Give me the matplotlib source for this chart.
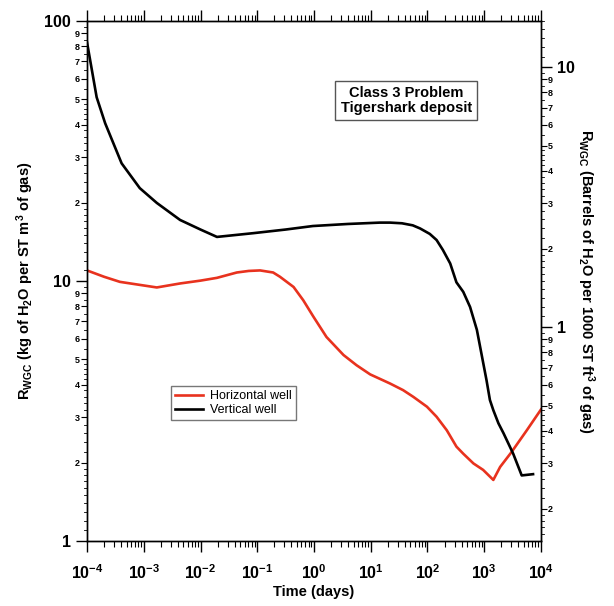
import numpy as np
import matplotlib
matplotlib.use("Agg")
import matplotlib.pyplot as plt
from matplotlib.ticker import FixedLocator, FuncFormatter, LogLocator, NullFormatter

plt.rcParams['font.family'] = ['Liberation Sans', 'DejaVu Sans']
plt.rcParams['font.weight'] = 'bold'
plt.rcParams['mathtext.fontset'] = 'custom'
plt.rcParams['mathtext.rm'] = 'Liberation Sans:bold'
plt.rcParams['mathtext.bf'] = 'Liberation Sans:bold'
plt.rcParams['mathtext.it'] = 'Liberation Sans:bold'
plt.rcParams['mathtext.default'] = 'rm'
plt.rcParams['axes.unicode_minus'] = False

# Vertical well (black): log10(time in days), R in kg/m3
logt_vert = [-4.0, -3.83, -3.68, -3.39, -3.07, -2.77, -2.36, -2.0,
             -1.71, -1.07, -0.5, -0.02, 0.6, 1.16, 1.34, 1.55, 1.74, 1.87,
             2.04, 2.16, 2.27, 2.40, 2.51, 2.63, 2.75, 2.87, 2.95, 3.04,
             3.10, 3.16, 3.25, 3.34, 3.51, 3.66, 3.86]
r_vert = [83, 51, 40.5, 28.4, 22.8, 20.0, 17.2, 15.8,
          14.8, 15.3, 15.8, 16.3, 16.6, 16.8, 16.8, 16.7, 16.4, 15.95,
          15.2, 14.4, 13.2, 11.7, 9.9, 9.1, 7.96, 6.5, 5.27, 4.16,
          3.49, 3.19, 2.84, 2.6, 2.17, 1.79, 1.81]

# Horizontal well (red)
logt_horiz = [-4.0, -3.7, -3.42, -3.1, -2.77, -2.36, -2.0, -1.71, -1.36, -1.15,
              -0.95, -0.72, -0.60, -0.36, -0.19, -0.01, 0.22, 0.52, 0.75,
              0.99, 1.34, 1.57, 1.75, 1.99, 2.16, 2.34, 2.51, 2.63, 2.81, 2.98,
              3.16, 3.28, 3.48, 3.75, 4.0]
r_horiz = [11.0, 10.4, 9.94, 9.7, 9.46, 9.8, 10.05, 10.3, 10.8, 10.95,
           11.0, 10.8, 10.4, 9.5, 8.45, 7.3, 6.1, 5.2, 4.75,
           4.38, 4.04, 3.81, 3.59, 3.29, 3.01, 2.67, 2.31, 2.17, 1.99, 1.88,
           1.72, 1.93, 2.2, 2.67, 3.21]

x_major = [1e-4, 1e-3, 1e-2, 1e-1, 1e0, 1e1, 1e2, 1e3, 1e4]
conv = 6.65  # right axis conversion factor (as drawn)

t_vert = [10 ** v for v in logt_vert]
t_horiz = [10 ** v for v in logt_horiz]

fig = plt.figure(figsize=(6.14, 6.06), dpi=100)
ax = fig.add_axes([0.1417, 0.107, 0.7394, 0.858])

ax.plot(t_horiz, r_horiz, color='#e8321e', lw=1.9, label='Horizontal well',
        solid_joinstyle='round')
ax.plot(t_vert, r_vert, color='black', lw=1.9, label='Vertical well',
        solid_joinstyle='round')

ax.set_xscale('log')
ax.set_yscale('log')
ax.set_xlim(1e-4, 1e4)
ax.set_ylim(1, 100)

# x ticks
ax.xaxis.set_major_locator(FixedLocator(x_major))
ax.xaxis.set_minor_locator(LogLocator(base=10, subs=np.arange(2, 10), numticks=20))
ax.xaxis.set_minor_formatter(NullFormatter())
ax.tick_params(axis='x', which='major', length=8, width=1, labelsize=11.5, direction='out',
               top=True, pad=8)
ax.tick_params(axis='x', which='minor', length=4, width=0.8, direction='out', top=True)

def fine_ticks(lo_dec, hi_dec):
    vals = []
    for d in range(lo_dec, hi_dec):
        base = 10.0 ** d
        for v in np.arange(1.1, 2.0, 0.1):
            vals.append(v * base)
        for v in np.arange(2.2, 5.0, 0.2):
            if abs(v - round(v)) > 1e-6:
                vals.append(v * base)
        for v in np.arange(5.5, 10.0, 0.5):
            if abs(v - round(v)) > 1e-6:
                vals.append(v * base)
    return vals

# left y ticks
ax.yaxis.set_major_locator(FixedLocator([1, 10, 100]))
ax.yaxis.set_major_formatter(FuncFormatter(lambda v, p: f"{int(round(v))}"))
ax.yaxis.set_minor_locator(LogLocator(base=10, subs=np.arange(2, 10), numticks=20))
ax.yaxis.set_minor_formatter(FuncFormatter(lambda v, p: f"{int(round(v / 10 ** np.floor(np.log10(v) + 1e-9)))}"))
ax.tick_params(axis='y', which='major', length=8, width=1, labelsize=11.5, direction='out')
ax.tick_params(axis='y', which='minor', length=4, width=0.8, labelsize=6.5, direction='out', pad=1)

for v in fine_ticks(0, 2):
    ax.plot([0, -0.006], [v, v], transform=ax.get_yaxis_transform(), color='black',
            lw=0.6, clip_on=False)

ax.set_ylabel(r"R$_{\mathrm{WGC}}$ (kg of H$_2$O per ST m$^3$ of gas)", fontsize=10.5,
              fontweight='bold', labelpad=6)
ax.set_xlabel("Time (days)", fontsize=10.5, fontweight='bold', labelpad=2)

# right axis
ax2 = ax.twinx()
ax2.set_yscale('log')
ax2.set_ylim(1 / conv, 100 / conv)
ax2.yaxis.set_major_locator(FixedLocator([1, 10]))
ax2.yaxis.set_major_formatter(FuncFormatter(lambda v, p: f"{int(round(v))}"))
ax2.yaxis.set_minor_locator(LogLocator(base=10, subs=np.arange(2, 10), numticks=20))
ax2.yaxis.set_minor_formatter(FuncFormatter(lambda v, p: f"{int(round(v / 10 ** np.floor(np.log10(v) + 1e-9)))}"))
ax2.tick_params(axis='y', which='major', length=8, width=1, labelsize=11.5, direction='out')
ax2.tick_params(axis='y', which='minor', length=4, width=0.8, labelsize=6.5, direction='out', pad=1)
for v in fine_ticks(-1, 2):
    if 1 / conv < v < 100 / conv:
        ax2.plot([1, 1.006], [v, v], transform=ax2.get_yaxis_transform(), color='black',
                 lw=0.6, clip_on=False)
ax2.set_ylabel(r"R$_{\mathrm{WGC}}$ (Barrels of H$_2$O per 1000 ST ft$^3$ of gas)",
               fontsize=10.5, fontweight='bold', rotation=270, labelpad=16)

for a in (ax, ax2):
    for s in a.spines.values():
        s.set_linewidth(1)

ax.text(0.703, 0.848, "Class 3 Problem\nTigershark deposit", transform=ax.transAxes,
        ha='center', va='center', fontsize=10.5, fontweight='bold', linespacing=1.1,
        bbox=dict(boxstyle='square,pad=0.35', fc='white', ec='#555555', lw=1))

leg = ax.legend(loc='upper left', bbox_to_anchor=(0.186, 0.298), fontsize=9,
                frameon=True, fancybox=False, edgecolor='#555555', handlelength=2.2,
                borderpad=0.3, labelspacing=0.2, handletextpad=0.6, borderaxespad=0)
leg.get_frame().set_linewidth(1)
for txt in leg.get_texts():
    txt.set_fontweight('normal')

fig.savefig("out.png", dpi=100)
